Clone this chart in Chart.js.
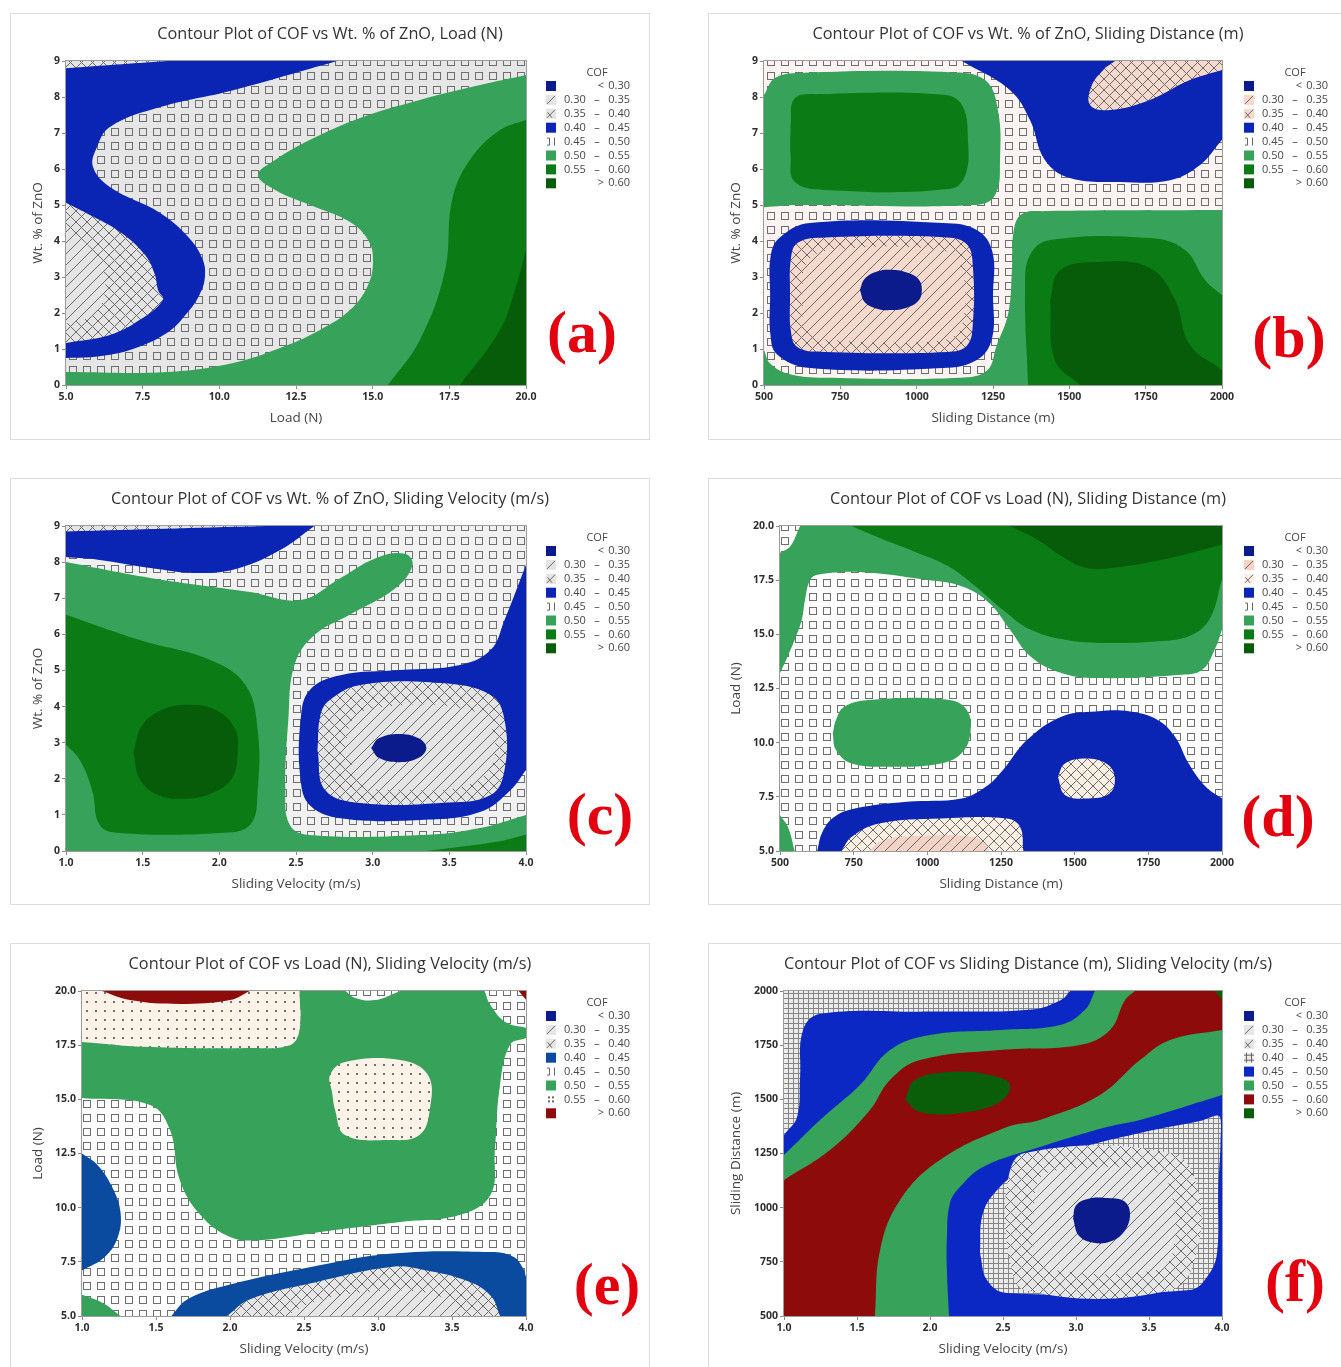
<!DOCTYPE html>
<html>
<head>
<meta charset="utf-8">
<title>Contour Plots of COF</title>
<script src="https://cdn.jsdelivr.net/npm/chart.js@4.4.1/dist/chart.umd.min.js"></script>
<style>
  html, body { margin:0; padding:0; background:#ffffff; }
  body { width:1341px; height:1367px; position:relative; overflow:hidden; }
  .card { position:absolute; width:640px; box-sizing:border-box; border:1px solid #dcdcdc; background:#fff; }
  canvas { position:absolute; }
</style>
</head>
<body>
<div class="card" style="left:10px;top:13px;height:427px"></div>
<div class="card" style="left:708px;top:13px;height:427px"></div>
<div class="card" style="left:10px;top:478px;height:427px"></div>
<div class="card" style="left:708px;top:478px;height:427px"></div>
<div class="card" style="left:10px;top:943px;height:430px"></div>
<div class="card" style="left:708px;top:943px;height:430px"></div>
<canvas id="cA" width="640" height="427" style="left:10px;top:13px"></canvas>
<canvas id="cB" width="640" height="427" style="left:708px;top:13px"></canvas>
<canvas id="cC" width="640" height="427" style="left:10px;top:478px"></canvas>
<canvas id="cD" width="640" height="427" style="left:708px;top:478px"></canvas>
<canvas id="cE" width="640" height="424" style="left:10px;top:943px"></canvas>
<canvas id="cF" width="640" height="424" style="left:708px;top:943px"></canvas>
<script>
// ---------------- tick labels ----------------
const znoTicks  = ['0','1','2','3','4','5','6','7','8','9'];
const loadTicks = ['5.0','7.5','10.0','12.5','15.0','17.5','20.0'];
const distTicks = ['500','750','1000','1250','1500','1750','2000'];
const velTicks  = ['1.0','1.5','2.0','2.5','3.0','3.5','4.0'];
const cofBins = [['<','0.30'],['0.30','0.35'],['0.35','0.40'],['0.40','0.45'],
                 ['0.45','0.50'],['0.50','0.55'],['0.55','0.60'],['>','0.60']];

// ---------------- (a) COF vs Wt.% ZnO, Load ----------------
const aBlue     = [[5,9],[13.84,9],[10.45,8.19],[8.07,7.72],[6.43,7.17],[6.01,6.61],[5.88,6.06],[6.43,5.5],[8.07,4.78],[9.0,4.1],[9.45,3.5],[9.53,3.0],[9.35,2.5],[8.95,2.0],[8.3,1.45],[7.18,1.0],[6.1,0.8],[5,0.75]];
const aCrossTop = [[5,9],[8.3,9],[5,8.8]];
const aCross    = [[5,5.06],[5.78,4.72],[6.76,4.25],[7.58,3.61],[7.9,3.06],[8.0,2.64],[8.16,2.36],[7.41,1.81],[6.43,1.39],[5,1.17]];
const aDiag     = [[5,4.3],[5.7,3.9],[6.2,3.2],[6.25,2.5],[5.9,1.95],[5,1.7]];
const aLGreen   = [[5,0],[5,0.36],[8.29,0.36],[10.45,0.61],[12.08,1.06],[13.28,1.53],[14.26,2.08],[14.85,2.78],[15.01,3.47],[14.85,4.03],[14.26,4.53],[12.96,5.0],[11.82,5.42],[11.26,5.83],[11.82,6.25],[12.96,6.81],[14.59,7.42],[16.54,7.92],[18.5,8.33],[20,8.61],[20,0]];
const aGreen    = [[15.5,0],[16.54,1.25],[17.36,3.19],[17.59,5.14],[18.17,6.25],[19.15,7.08],[20,7.36],[20,0]];
const aDGreen   = [[17.85,0],[19.15,1.53],[19.64,2.64],[20,3.75],[20,0]];
const aLayers = [[3,aBlue],[2,aCrossTop],[2,aCross],[1,aDiag],[5,aLGreen],[6,aGreen],[7,aDGreen]];

// ---------------- (b) COF vs Wt.% ZnO, Sliding Distance ----------------
const bGreenTL  = [[500,8.06],[536,8.53],[618,8.67],[1109,8.69],[1224,8.47],[1266,7.64],[1273,6.25],[1257,5.28],[1191,5.0],[618,5.0],[500,4.94]];
const bDGreenTL = [[587,7.2],[600,7.95],[680,8.08],[1090,8.06],[1150,7.75],[1168,6.8],[1160,5.85],[1110,5.45],[700,5.42],[600,5.65],[587,6.4],[587,7.2]];
const bBlueTR   = [[1148,9],[1306,8.19],[1371,7.36],[1420,6.25],[1502,5.75],[1666,5.64],[1830,5.69],[1928,6.11],[2000,6.81],[2000,9]];
const bCrossTR  = [[1650,9],[2000,9],[2000,8.75],[1895,8.47],[1764,7.92],[1633,7.64],[1568,7.78],[1574,8.33],[1617,8.81]];
const bGreenB   = [[500,0.97],[520,0.6],[585,0.3],[716,0.2],[1142,0.2],[1230,0.4],[1262,1.1],[1300,2.0],[1312,3.2],[1318,4.3],[1345,4.75],[1420,4.83],[2000,4.86],[2000,0],[500,0]];
const bDGreenB  = [[1365,0],[1355,2.64],[1371,3.61],[1437,4.03],[1764,4.08],[1879,3.75],[1944,2.92],[2000,2.5],[2000,0]];
const bDDGreen  = [[1437,2.36],[1469,3.19],[1600,3.42],[1764,3.25],[1846,2.36],[1895,1.11],[2000,0.42],[2000,0],[1535,0],[1453,0.69],[1437,2.36]];
const bBlueRing = [[520,2.5],[522,3.6],[552,4.1],[651,4.5],[1086,4.5],[1198,4.3],[1248,3.7],[1250,2.5],[1247,1.3],[1198,0.7],[1086,0.47],[651,0.47],[543,0.85],[521,1.4],[520,2.5]];
const bCrossIn  = [[585,2.5],[588,3.5],[610,3.95],[700,4.1],[1100,4.1],[1165,3.9],[1184,3.3],[1184,1.7],[1165,1.1],[1100,0.92],[700,0.92],[610,1.05],[588,1.5],[585,2.5]];
const bDiagIn   = [[625,2.5],[640,3.4],[720,3.75],[1080,3.75],[1145,3.3],[1150,1.7],[1090,1.25],[720,1.25],[640,1.5],[625,2.5]];
const bNavy     = [[814,2.64],[830,2.95],[870,3.15],[916,3.2],[965,3.13],[1005,2.95],[1017,2.64],[1005,2.33],[965,2.14],[916,2.08],[870,2.12],[830,2.3],[814,2.64]];
const bLayers = [[5,bGreenTL],[6,bDGreenTL],[3,bBlueTR],[2,bCrossTR],[5,bGreenB],[6,bDGreenB],[7,bDDGreen],[3,bBlueRing],[2,bCrossIn],[1,bDiagIn],[0,bNavy]];

// ---------------- (c) COF vs Wt.% ZnO, Sliding Velocity ----------------
const cBlueTop  = [[1,9],[2.62,9],[2.4,8.34],[2.13,7.84],[1.87,7.7],[1.55,7.84],[1.22,8.06],[1,8.14]];
const cCrossTop = [[1,9],[2.3,9],[1,8.85]];
const cLGreen   = [[1,8.0],[1.55,7.56],[2.2,7.17],[2.53,6.95],[2.79,7.56],[3.02,8.11],[3.21,8.23],[3.26,7.92],[3.15,7.28],[2.85,6.54],[2.62,5.98],[2.49,5.15],[2.45,3.63],[2.43,1.69],[2.46,0.72],[2.59,0.44],[3.31,0.44],[3.7,0.64],[4,1.0],[4,0],[1,0]];
const cDGreen   = [[1,6.54],[1.48,5.84],[1.94,5.29],[2.17,4.6],[2.25,3.35],[2.25,1.69],[2.2,0.72],[2.0,0.5],[1.35,0.5],[1.22,0.72],[1.17,1.69],[1.09,2.52],[1,2.94]];
const cDDGreen  = [[1.44,2.74],[1.5,3.5],[1.65,3.95],[1.8,4.05],[1.98,3.9],[2.1,3.4],[2.12,2.74],[2.08,2.0],[1.95,1.6],[1.78,1.45],[1.6,1.55],[1.48,2.0],[1.44,2.74]];
const cGreenBR  = [[3.35,0],[3.8,0.25],[4,0.45],[4,0]];
const cBlue     = [[4,7.92],[3.86,6.4],[3.77,5.57],[3.57,5.15],[3.18,5.01],[2.79,4.87],[2.59,4.46],[2.53,3.63],[2.53,1.97],[2.59,1.27],[2.79,0.91],[3.31,0.86],[3.7,1.08],[3.9,1.69],[4,2.24]];
const cCross    = [[2.64,2.8],[2.66,3.77],[2.72,4.18],[2.92,4.6],[3.44,4.65],[3.77,4.32],[3.86,3.63],[3.86,2.24],[3.77,1.55],[3.44,1.33],[2.92,1.33],[2.69,1.69],[2.64,2.8]];
const cDiag     = [[2.82,2.8],[2.88,3.7],[3.1,4.0],[3.5,4.0],[3.75,3.6],[3.78,2.4],[3.6,1.8],[3.2,1.7],[2.95,1.85],[2.82,2.8]];
const cNavy     = [[2.99,2.85],[3.04,3.12],[3.17,3.24],[3.3,3.12],[3.35,2.85],[3.3,2.58],[3.17,2.46],[3.04,2.58],[2.99,2.85]];
const cLayers = [[3,cBlueTop],[2,cCrossTop],[5,cLGreen],[6,cDGreen],[7,cDDGreen],[6,cGreenBR],[3,cBlue],[2,cCross],[1,cDiag],[0,cNavy]];

// ---------------- (d) COF vs Load, Sliding Distance ----------------
const dLGreen   = [[500,18.77],[535,19.07],[568,20],[2000,20],[2000,15.22],[1980,14.44],[1933,13.36],[1863,13.13],[1572,12.98],[1455,13.21],[1350,13.98],[1280,15.22],[1210,16.45],[1116,17.22],[988,17.53],[778,17.87],[632,17.76],[603,17.53],[585,16.6],[574,15.68],[550,14.75],[521,13.83],[500,13.21]];
const dGreen    = [[743,20],[836,19.46],[953,18.84],[1070,18.15],[1163,17.22],[1256,16.14],[1350,15.22],[1467,14.75],[1607,14.6],[1782,14.68],[1887,14.91],[1957,15.68],[2000,17.53],[2000,20]];
const dDGreen   = [[1280,20],[1373,19.38],[1455,18.61],[1537,18.07],[1630,18.07],[1805,18.46],[2000,19.15],[2000,20]];
const dOval     = [[679,10.43],[690,11.05],[719,11.67],[813,11.98],[1070,11.98],[1134,11.51],[1146,10.43],[1116,9.51],[1046,9.04],[883,8.89],[743,9.04],[690,9.66],[679,10.43]];
const dGreenBL  = [[500,6.65],[527,6.11],[550,5],[500,5]];
const dBlue     = [[626,5],[644,5.88],[684,6.57],[754,6.96],[930,7.27],[1116,7.42],[1198,7.96],[1256,8.73],[1338,10.12],[1455,11.2],[1572,11.44],[1688,11.44],[1782,11.05],[1840,10.28],[1887,9.04],[1945,7.96],[2000,7.42],[2000,5]];
const dCross    = [[708,5],[743,5.65],[836,6.27],[1046,6.5],[1268,6.5],[1315,6.11],[1326,5]];
const dDiag     = [[801,5],[848,5.49],[953,5.68],[1140,5.68],[1198,5.34],[1210,5]];
const dCrossOv  = [[1443,8.43],[1467,9.04],[1537,9.27],[1607,9.04],[1636,8.43],[1618,7.65],[1537,7.42],[1467,7.58],[1443,8.43]];
const dLayers = [[5,dLGreen],[6,dGreen],[7,dDGreen],[5,dOval],[5,dGreenBL],[3,dBlue],[2,dCross],[1,dDiag],[2,dCrossOv]];

// ---------------- (e) COF vs Load, Sliding Velocity ----------------
const eDots     = [[1,20],[2.47,20],[2.47,18.2],[2.405,17.5],[2.135,17.37],[1.46,17.41],[1,17.65]];
const eRedTop   = [[1.135,20],[1.324,19.58],[1.66,19.4],[2.0,19.58],[2.135,20]];
const eLGreen   = [[1,17.65],[1.46,17.41],[2.135,17.37],[2.405,17.5],[2.47,18.2],[2.47,20],[2.78,20],[2.845,19.68],[2.98,19.58],[3.115,19.9],[3.15,20],[3.72,20],[3.76,19.35],[3.86,18.57],[4,18.3],[4,17.83],[3.89,17.5],[3.82,15.43],[3.79,12.66],[3.76,10.58],[3.55,9.66],[3.15,9.34],[2.61,8.88],[2.2,8.5],[2.0,8.65],[1.8,9.66],[1.66,11.28],[1.595,13.58],[1.46,14.74],[1,15.06]];
const eDotsBlob = [[2.69,15.3],[2.676,16.12],[2.777,16.72],[3.149,16.81],[3.338,16.12],[3.35,14.51],[3.28,13.35],[3.08,13.12],[2.777,13.35],[2.71,14.51],[2.69,15.3]];
const eRedTR    = [[3.95,20],[4,20],[4,19.6]];
const eBlueL    = [[1,12.5],[1.1,12.0],[1.2,11.0],[1.26,9.8],[1.24,8.6],[1.15,7.7],[1,7.1]];
const eGreenBL  = [[1,5.98],[1.14,5.6],[1.26,5],[1,5]];
const eBlueB    = [[1.604,5],[1.71,5.76],[1.95,6.36],[2.556,7.27],[3.10,7.88],[3.764,7.95],[3.915,7.73],[3.98,7.2],[4,6.8],[4,5]];
const eCross    = [[1.98,5],[2.133,5.76],[2.556,6.52],[3.10,7.27],[3.311,7.12],[3.613,6.59],[3.764,5.91],[3.825,5]];
const eDiag     = [[2.375,5],[2.556,5.61],[2.858,6.06],[3.25,6.14],[3.46,5.76],[3.55,5]];
const eLayers = [[6,eDots],[7,eRedTop],[5,eLGreen],[6,eDotsBlob],[7,eRedTR],[3,eBlueL],[5,eGreenBL],[3,eBlueB],[2,eCross],[1,eDiag]];

// ---------------- (f) COF vs Sliding Distance, Sliding Velocity ----------------
const fBlue     = [[1,1335],[1.09,1420],[1.11,1600],[1.13,1820],[1.25,1895],[2.0,1905],[2.7,1915],[2.9,1960],[2.96,2000],[4,2000],[4,500],[1,500]];
const fLGreen   = [[1,1243],[1.247,1405],[1.52,1566],[1.726,1728],[2.0,1797],[2.479,1820],[2.89,1843],[3.06,1912],[3.13,2000],[4,2000],[4,1520],[3.781,1474],[3.438,1405],[3.212,1372],[2.753,1280],[2.363,1188],[2.205,1095],[2.137,1022],[2.116,865],[2.116,712],[2.13,500],[1,500]];
const fRed      = [[1,1128],[1.315,1266],[1.589,1451],[1.726,1589],[1.932,1681],[2.479,1728],[3.027,1751],[3.233,1820],[3.336,1958],[3.404,2000],[4,2000],[4,1820],[3.644,1774],[3.438,1681],[3.164,1520],[2.753,1405],[2.527,1372],[2.068,1220],[1.795,1035],[1.658,805],[1.623,500],[1,500]];
const fDGreen   = [[1.829,1497],[1.897,1589],[2.137,1626],[2.411,1612],[2.548,1566],[2.479,1488],[2.205,1437],[1.932,1441],[1.829,1497]];
const fDGreenTR = [[3.95,2000],[4,2000],[4,1960]];
const fGrid     = [[2.342,791],[2.363,975],[2.479,1095],[2.637,1174],[2.979,1266],[3.438,1345],[3.849,1400],[3.985,1420],[3.99,1300],[3.975,1095],[3.966,791],[3.897,680],[3.78,620],[2.527,606],[2.39,666],[2.342,791]];
const fCross    = [[2.527,800],[2.527,1100],[2.65,1252],[3.65,1252],[3.829,1100],[3.829,800],[3.65,620],[2.65,620],[2.527,800]];
const fDiag     = [[2.705,950],[2.75,1130],[2.9,1174],[3.5,1174],[3.64,1100],[3.664,800],[3.55,712],[2.85,712],[2.72,790],[2.705,950]];
const fNavy     = [[2.98,950],[3.0,1010],[3.08,1040],[3.2,1045],[3.33,1030],[3.37,970],[3.33,890],[3.24,845],[3.12,838],[3.02,870],[2.98,950]];
const fLayers = [[4,fBlue],[5,fLGreen],[6,fRed],[7,fDGreen],[7,fDGreenTR],[3,fGrid],[2,fCross],[1,fDiag],[0,fNavy]];

// ---------------- styles ----------------
const COL = { navy:'#0b1b8c', blue:'#0a24b4', lgreen:'#37a25a', green:'#0b7b15', dgreen:'#065c08',
              steel:'#0b4b9f', dred:'#8d0b0b', fblue:'#0b28c4', fdgreen:'#0a5e0a' };
const solid = c => ({kind:'solid', color:c});
const pat = (kind, bg) => ({kind, bg});
const aFills = [solid(COL.navy), pat('diag','#e4e4e4'), pat('cross','#e4e4e4'), solid(COL.blue), pat('squares','#e6e6e6'), solid(COL.lgreen), solid(COL.green), solid(COL.dgreen)];
const bFills = [solid(COL.navy), pat('diag','#f5d9cd'), pat('cross','#f5d9cd'), solid(COL.blue), pat('squares','#fcf4f2'), solid(COL.lgreen), solid(COL.green), solid(COL.dgreen)];
const cFills = [solid(COL.navy), pat('diag','#e4e4e4'), pat('cross','#e4e4e4'), solid(COL.blue), pat('squares','#f1f1f1'), solid(COL.lgreen), solid(COL.green), solid(COL.dgreen)];
const dFills = [solid(COL.navy), pat('diag','#f3d3c6'), pat('cross','#fbefe4'), solid(COL.blue), pat('squares','#ffffff'), solid(COL.lgreen), solid(COL.green), solid(COL.dgreen)];
const eFills = [solid(COL.navy), pat('diag','#e6e6e6'), pat('cross','#e6e6e6'), solid(COL.steel), pat('squares','#ffffff'), solid(COL.lgreen), pat('dots','#fcf2e8'), solid(COL.dred)];
const fFills = [solid(COL.navy), pat('diag','#e6e6e6'), pat('cross','#e6e6e6'), pat('grid','#ebebeb'), solid(COL.fblue), solid(COL.lgreen), solid(COL.dred), solid(COL.fdgreen)];

function makeTile(size, bg, draw) {
  const c = document.createElement('canvas');
  c.width = size; c.height = size;
  const g = c.getContext('2d');
  g.fillStyle = bg; g.fillRect(0, 0, size, size);
  g.strokeStyle = '#6a6a6a'; g.fillStyle = '#6a6a6a'; g.lineWidth = 1;
  draw(g, size);
  return g.createPattern(c, 'repeat');
}
function toStyle(f) {
  if (f.kind === 'solid') return f.color;
  if (f.kind === 'squares') return makeTile(14, f.bg, g => { g.strokeStyle = '#6e6e6e'; g.strokeRect(3.5, 3.5, 7, 7); });
  if (f.kind === 'diag') return makeTile(11, f.bg, (g, s) => {
    g.beginPath(); g.moveTo(-1, s + 1); g.lineTo(s + 1, -1);
    g.moveTo(-1, 1); g.lineTo(1, -1); g.moveTo(s - 1, s + 1); g.lineTo(s + 1, s - 1); g.stroke(); });
  if (f.kind === 'cross') return makeTile(11, f.bg, (g, s) => {
    g.beginPath(); g.moveTo(-1, s + 1); g.lineTo(s + 1, -1);
    g.moveTo(-1, 1); g.lineTo(1, -1); g.moveTo(s - 1, s + 1); g.lineTo(s + 1, s - 1);
    g.moveTo(-1, -1); g.lineTo(s + 1, s + 1);
    g.moveTo(s - 1, -1); g.lineTo(s + 1, 1); g.moveTo(-1, s - 1); g.lineTo(1, s + 1); g.stroke(); });
  if (f.kind === 'grid') return makeTile(5, f.bg, g => {
    g.strokeStyle = '#858585'; g.beginPath(); g.moveTo(0.5, 0); g.lineTo(0.5, 5); g.moveTo(0, 0.5); g.lineTo(5, 0.5); g.stroke(); });
  if (f.kind === 'dots') return makeTile(9, f.bg, g => { g.fillStyle = '#707070'; g.fillRect(4, 4, 2, 2); });
}
function drawSwatch(ctx, f, x, y) {
  const s = 10;
  ctx.save();
  if (f.kind === 'solid') { ctx.fillStyle = f.color; ctx.fillRect(x, y, s, s); ctx.restore(); return; }
  ctx.fillStyle = f.kind === 'squares' || f.kind === 'dots' ? '#ffffff' : f.bg;
  ctx.fillRect(x, y, s, s);
  ctx.strokeStyle = '#666'; ctx.fillStyle = '#666'; ctx.lineWidth = 1;
  ctx.beginPath();
  if (f.kind === 'diag') { ctx.moveTo(x + 1, y + s - 1); ctx.lineTo(x + s - 1, y + 1); }
  else if (f.kind === 'cross') { ctx.moveTo(x + 1, y + s - 1); ctx.lineTo(x + s - 1, y + 1); ctx.moveTo(x + 1.5, y + 3.5); ctx.lineTo(x + 6, y + s - 1); }
  else if (f.kind === 'squares') { ctx.moveTo(x + 1, y + 1.5); ctx.lineTo(x + 3.5, y + 1.5); ctx.lineTo(x + 3.5, y + 8.5); ctx.lineTo(x + 1, y + 8.5); ctx.moveTo(x + 8.5, y + 1); ctx.lineTo(x + 8.5, y + 9); }
  else if (f.kind === 'grid') { ctx.moveTo(x + 2.5, y); ctx.lineTo(x + 2.5, y + s); ctx.moveTo(x + 7.5, y); ctx.lineTo(x + 7.5, y + s); ctx.moveTo(x, y + 2.5); ctx.lineTo(x + s, y + 2.5); ctx.moveTo(x, y + 7.5); ctx.lineTo(x + s, y + 7.5); }
  else if (f.kind === 'dots') { ctx.fillRect(x + 2, y + 2, 2, 2); ctx.fillRect(x + 6, y + 2, 2, 2); ctx.fillRect(x + 2, y + 6, 2, 2); ctx.fillRect(x + 6, y + 6, 2, 2); }
  ctx.stroke();
  ctx.restore();
}

// points on the plot boundary are doubled so edges stay straight and corners sharp
function prep(pts, xr, yr) {
  const e = 1e-9, out = [];
  for (const [x, y] of pts) {
    out.push({x, y});
    if (x <= xr[0] + e || x >= xr[1] - e || y <= yr[0] + e || y >= yr[1] - e) out.push({x, y});
  }
  return out;
}

const FONT = '"Open Sans", "Noto Sans", sans-serif';
const TICKFONT = '"Liberation Sans Narrow", "Open Sans", sans-serif';
const TITLE_SIZE = 16.3, AXIS_SIZE = 13.5;

function makePanel(p) {
  const xv = p.xTicks.map(parseFloat), yv = p.yTicks.map(parseFloat);
  const xr = [xv[0], xv[xv.length - 1]], yr = [yv[0], yv[yv.length - 1]];
  const styles = p.fills.map(toStyle);
  const full = [[xr[0], yr[0]], [xr[1], yr[0]], [xr[1], yr[1]], [xr[0], yr[1]]];
  const layers = [[p.base, full], ...p.layers];
  const datasets = layers.map(([lvl, pts], i) => ({
    data: prep(pts, xr, yr),
    backgroundColor: styles[lvl],
    borderColor: 'rgba(0,0,0,0)',
    borderWidth: 0,
    fill: 'shape',
    tension: 0.4,
    pointRadius: 0,
    pointHoverRadius: 0,
    order: layers.length - i
  }));
  const H = p.H, xBottom = p.xTitleY + AXIS_SIZE * 0.6;
  const tLH = TITLE_SIZE * 1.2, tTop = 21 - tLH / 2;
  const decor = {
    id: 'decor',
    afterDatasetsDraw(chart) {
      const ctx = chart.ctx, a = chart.chartArea;
      ctx.save();
      ctx.strokeStyle = '#9c9c9c'; ctx.lineWidth = 1;
      ctx.strokeRect(a.left - 0.5, a.top - 0.5, a.right - a.left + 1, a.bottom - a.top + 1);
      ctx.restore();
    },
    afterDraw(chart) {
      const ctx = chart.ctx;
      ctx.save();
      ctx.fillStyle = '#474747'; ctx.textBaseline = 'middle';
      ctx.font = '11px ' + FONT;
      ctx.textAlign = 'center'; ctx.fillText('COF', 587, 60);
      cofBins.forEach(([lo, hi], i) => {
        const y = 73 + i * 13.9;
        drawSwatch(ctx, p.fills[i], 536, y - 5);
        ctx.fillStyle = '#474747';
        if (lo === '<' || lo === '>') { ctx.textAlign = 'center'; ctx.fillText(lo, 591, y); }
        else { ctx.textAlign = 'left'; ctx.fillText(lo, 554, y); ctx.textAlign = 'center'; ctx.fillText('–', 587, y); }
        ctx.textAlign = 'right'; ctx.fillText(hi, 620, y);
      });
      ctx.fillStyle = '#e3000f';
      ctx.font = 'bold 60px "Liberation Serif", "Times New Roman", serif';
      ctx.textAlign = 'center'; ctx.textBaseline = 'middle';
      ctx.fillText(p.label, p.labelX, p.labelY);
      ctx.restore();
    }
  };
  const axisCommon = (vals, labels, title) => ({
    type: 'linear', min: vals[0], max: vals[vals.length - 1],
    afterBuildTicks: s => { s.ticks = vals.map(v => ({value: v})); },
    ticks: { callback: (v, i) => labels[i], autoSkip: false, maxRotation: 0, padding: 2,
             color: '#2e2e2e', font: { family: TICKFONT, size: 10.5, weight: 'bold' } },
    grid: { display: true, drawOnChartArea: false, drawTicks: true, tickLength: 4, color: '#8a8a8a' },
    border: { display: false },
    title: { display: true, text: title, color: '#444', padding: 0, font: { family: FONT, size: AXIS_SIZE } }
  });
  const xs = axisCommon(xv, p.xTicks, p.xTitle);
  xs.afterFit = s => { s.height = xBottom - p.plotBottom; };
  const ys = axisCommon(yv, p.yTicks, p.yTitle);
  ys.afterFit = s => { s.width = p.plotLeft - 20; };
  new Chart(document.getElementById(p.id), {
    type: 'line',
    data: { datasets },
    options: {
      responsive: false, animation: false, events: [],
      layout: { padding: { left: 20, right: 20, top: 0, bottom: H - xBottom } },
      plugins: {
        legend: { display: false }, tooltip: { enabled: false },
        title: { display: true, text: p.title, color: '#333333',
                 font: { family: FONT, size: TITLE_SIZE, weight: 'normal' },
                 padding: { top: tTop, bottom: 48 - tTop - tLH } }
      },
      scales: {
        x: xs, y: ys,
        yr: { position: 'right', display: true, afterFit: s => { s.width = 640 - 20 - p.plotRight; },
              grid: { display: false }, border: { display: false }, ticks: { display: false } }
      }
    },
    plugins: [decor]
  });
}

makePanel({ id:'cA', H:427, plotLeft:56, plotRight:516, plotBottom:372, xTitleY:405,
  title:'Contour Plot of COF vs Wt. % of ZnO, Load (N)', xTitle:'Load (N)', yTitle:'Wt. % of ZnO',
  xTicks: loadTicks, yTicks: znoTicks, base:4, layers:aLayers, fills:aFills, label:'(a)', labelX:572, labelY:323 });
makePanel({ id:'cB', H:427, plotLeft:56, plotRight:514, plotBottom:372, xTitleY:405,
  title:'Contour Plot of COF vs Wt. % of ZnO, Sliding Distance (m)', xTitle:'Sliding Distance (m)', yTitle:'Wt. % of ZnO',
  xTicks: distTicks, yTicks: znoTicks, base:4, layers:bLayers, fills:bFills, label:'(b)', labelX:581, labelY:328 });
makePanel({ id:'cC', H:427, plotLeft:56, plotRight:516, plotBottom:373, xTitleY:406,
  title:'Contour Plot of COF vs Wt. % of ZnO, Sliding Velocity (m/s)', xTitle:'Sliding Velocity (m/s)', yTitle:'Wt. % of ZnO',
  xTicks: velTicks, yTicks: znoTicks, base:4, layers:cLayers, fills:cFills, label:'(c)', labelX:590, labelY:340 });
makePanel({ id:'cD', H:427, plotLeft:72, plotRight:514, plotBottom:373, xTitleY:406,
  title:'Contour Plot of COF vs Load (N), Sliding Distance (m)', xTitle:'Sliding Distance (m)', yTitle:'Load (N)',
  xTicks: distTicks, yTicks: loadTicks, base:4, layers:dLayers, fills:dFills, label:'(d)', labelX:570, labelY:342 });
makePanel({ id:'cE', H:424, plotLeft:72, plotRight:516, plotBottom:373, xTitleY:406,
  title:'Contour Plot of COF vs Load (N), Sliding Velocity (m/s)', xTitle:'Sliding Velocity (m/s)', yTitle:'Load (N)',
  xTicks: velTicks, yTicks: loadTicks, base:4, layers:eLayers, fills:eFills, label:'(e)', labelX:597, labelY:345 });
makePanel({ id:'cF', H:424, plotLeft:76, plotRight:514, plotBottom:373, xTitleY:406,
  title:'Contour Plot of COF vs Sliding Distance (m), Sliding Velocity (m/s)', xTitle:'Sliding Velocity (m/s)', yTitle:'Sliding Distance (m)',
  xTicks: velTicks, yTicks: distTicks, base:3, layers:fLayers, fills:fFills, label:'(f)', labelX:587, labelY:342 });
</script>
</body>
</html>
